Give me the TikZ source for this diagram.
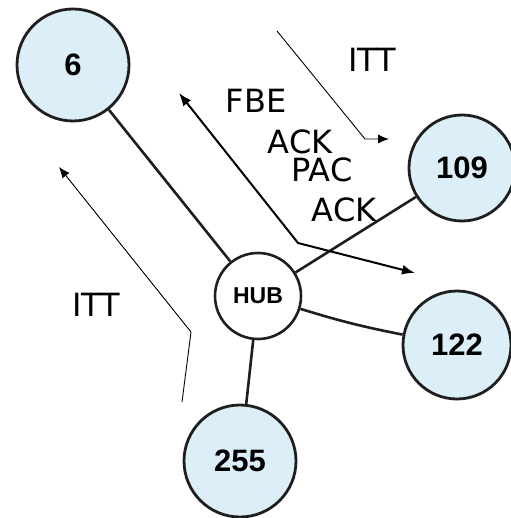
\documentclass[tikz,border=0pt]{standalone}
\usepackage{fontspec}
\setmainfont{DejaVu Sans}
\newfontfamily\numfont{Liberation Sans}
\usetikzlibrary{arrows.meta}
\definecolor{nodefill}{RGB}{220,238,248}
\definecolor{rim}{RGB}{30,30,30}
\tikzset{
  station/.style={circle, draw=rim, line width=2.8pt, fill=nodefill, inner sep=0pt,
    font=\numfont\bfseries\fontsize{31}{31}\selectfont},
  hubnode/.style={circle, draw=rim, line width=2.6pt, fill=white, inner sep=0pt,
    font=\numfont\bfseries\fontsize{23}{23}\selectfont},
  link/.style={draw=rim, line width=2.6pt},
  msg/.style={font=\fontsize{32}{32}\selectfont, inner sep=0pt},
  thinarrow/.style={line width=0.9pt, -{Latex[length=11pt,width=9pt]}},
  thickarrow/.style={line width=2pt, {Latex[length=13pt,width=10pt]}-{Latex[length=13pt,width=10pt]}},
}
\begin{document}
\begin{tikzpicture}[x=1pt,y=-1pt]
\useasboundingbox (0,0) rectangle (510,518);

% stations around the hub
\node[station, minimum size=112pt] (n6)   at (73,65)   {6};
\node[station, minimum size=106pt] (n109) at (462,168) {109};
\node[station, minimum size=108pt] (n122) at (457,345) {122};
\node[station, minimum size=112pt] (n255) at (240,461) {255};
\node[hubnode, minimum size=86pt]  (hub)  at (258,296) {HUB};

% links to the hub
\draw[link] (hub) -- (n6);
\draw[link] (hub) -- (n109);
\draw[link] (hub) to[bend right=3] (n122);
\draw[link] (hub) -- (n255);

% message labels
\node[msg] (itt1) at (372,60)  {ITT};
\node[msg] (fbe)  at (256,101) {FBE};
\node[msg] (ack1) at (300,142) {ACK};
\node[msg] (pac)  at (322,170) {PAC};
\node[msg] (ack2) at (344,210) {ACK};
\node[msg] (itt2) at (96,305)  {ITT};

% message arrows
\coordinate (a1s) at (277,31);
\coordinate (a1b) at (365,139);
\coordinate (a1e) at (389,139);
\draw[thinarrow] (a1s) -- (a1b) -- (a1e);

\coordinate (a2s) at (182,402);
\coordinate (a2b) at (191,332);
\coordinate (a2e) at (59,167);
\draw[thinarrow] (a2s) -- (a2b) -- (a2e);

\coordinate (a3s) at (179,93);
\coordinate (a3b) at (298,243);
\coordinate (a3e) at (415,273);
\draw[thickarrow] (a3s) -- (a3b) -- (a3e);
\end{tikzpicture}
\end{document}
